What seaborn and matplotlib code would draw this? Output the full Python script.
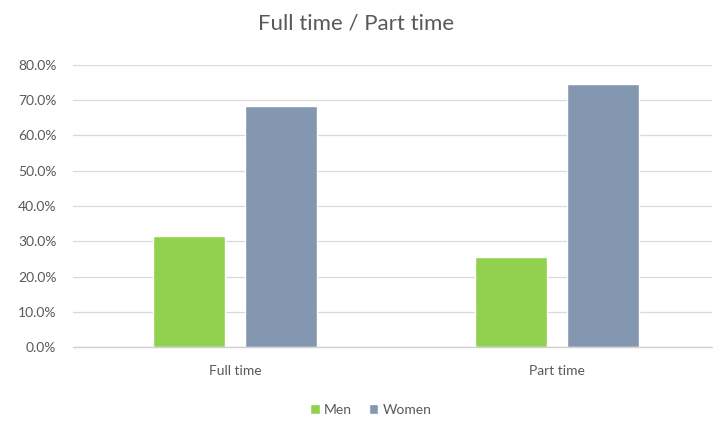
import pandas as pd
import seaborn as sns
import matplotlib.pyplot as plt
import matplotlib.ticker as ticker

# data
categories = ["Full time", "Part time"]
men = [0.316, 0.255]
women = [0.684, 0.745]
series = ["Men", "Women"]
colors = ["#92D050", "#8497B0"]

df = pd.DataFrame({
    "Type": categories * 2,
    "Gender": ["Men"] * len(categories) + ["Women"] * len(categories),
    "Share": men + women,
})

sns.set_style("white")
plt.rcParams["font.family"] = ["Lato", "DejaVu Sans"]

fig = plt.figure(figsize=(7.13, 4.22), dpi=100)
ax = fig.add_axes([73 / 713, 75 / 422, 639 / 713, 282 / 422])

sns.barplot(data=df, x="Type", y="Share", hue="Gender", hue_order=series,
            palette=colors, width=0.571, gap=0.217, saturation=1,
            ax=ax, zorder=3)

ax.set_ylim(0, 0.8)
ax.set_xlim(-0.503, 1.48)
ax.yaxis.set_major_locator(ticker.MultipleLocator(0.1))
ax.yaxis.set_major_formatter(ticker.FuncFormatter(lambda v, pos: f"{v*100:.1f}%"))
ax.grid(axis="y", color="#D9D9D9", linewidth=0.9, zorder=0)
ax.axhline(0, color="#D0D0D0", linewidth=1.0, zorder=4, clip_on=False)
ax.set_axisbelow(True)
for s in ax.spines.values():
    s.set_visible(False)
ax.tick_params(axis="both", length=0, colors="#595959", labelsize=10)
ax.tick_params(axis="y", pad=12)
ax.tick_params(axis="x", pad=13)
ax.set_xlabel("")
ax.set_ylabel("")

fig.suptitle("Full time / Part time", y=0.967, fontsize=16, color="#595959")

handles, labels = ax.get_legend_handles_labels()
ax.legend_.remove()
fig.legend(handles, labels, loc="center", bbox_to_anchor=(0.52, 0.028),
           ncol=2, frameon=False, fontsize=10, labelcolor="#595959",
           handlelength=0.7, handleheight=0.7, handletextpad=0.3,
           columnspacing=1.2)

fig.savefig("out.png", dpi=100)
